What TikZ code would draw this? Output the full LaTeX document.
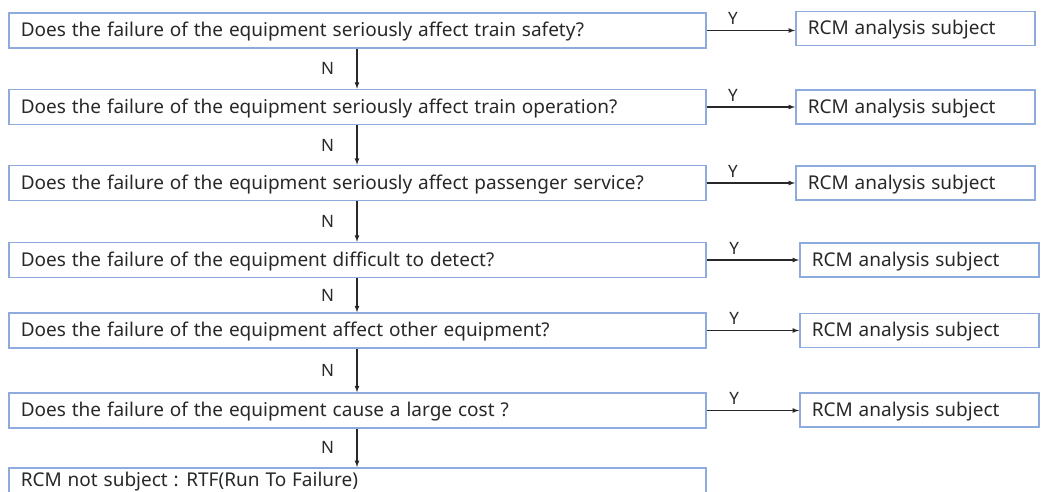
\documentclass[tikz,border=0pt]{standalone}
\usepackage{fontspec}
\setmainfont{Noto Sans}
\usetikzlibrary{positioning}

\definecolor{boxedge}{RGB}{143,170,220}
\definecolor{inkgray}{RGB}{40,40,40}

\newcommand{\boxfont}{\fontsize{19}{22}\selectfont}

\begin{document}
\begin{tikzpicture}[x=1pt, y=-1pt,
  question/.style={draw=boxedge, line width=1.5pt, anchor=west,
    minimum width=697pt, minimum height=35pt, text width=673pt,
    text height=16pt, text depth=3.5pt,
    inner xsep=12pt, align=flush left, text=inkgray, font=\boxfont,
    execute at begin node={\spaceskip=5.9pt plus 2pt minus 1pt\relax}},
  result/.style={question, minimum width=239pt, minimum height=34pt, text width=215pt},
  yesarrow/.style={-latex, line width=1.2pt, inkgray},
  noarrow/.style={-latex, line width=1.2pt, inkgray},
  answer/.style={text=inkgray, font=\fontsize{17}{20}\selectfont}
]

  % page frame
  \useasboundingbox (0,0) rectangle (1041,492);

  % --- questions (left column) ---
  \node[question] (q1) at (8,30.5)  {Does the failure of the equipment seriously affect train safety?};
  \node[question] (q2) at (8,107)   {Does the failure of the equipment seriously affect train operation?};
  \node[question] (q3) at (8,183)   {Does the failure of the equipment seriously affect passenger service?};
  \node[question] (q4) at (8,260)   {Does the failure of the equipment difficult to detect?};
  \node[question] (q5) at (8,330.5) {Does the failure of the equipment affect other equipment?};
  \node[question] (q6) at (8,410.5) {Does the failure of the equipment cause a large cost ?};
  \node[question, anchor=north west, minimum height=50pt, text height=14pt, text depth=26pt, inner ysep=4pt] (q7) at (8,467)
    {RCM not subject : RTF(Run To Failure)};

  % --- results (right column) ---
  \node[result] (r1) at (795,28.5) {RCM analysis subject};
  \node[result] (r2) at (795,107)  {RCM analysis subject};
  \node[result] (r3) at (795,183)  {RCM analysis subject};
  \node[result] (r4) at (799,260)  {RCM analysis subject};
  \node[result] (r5) at (799,330.5){RCM analysis subject};
  \node[result] (r6) at (799,410)  {RCM analysis subject};

  % --- Y branches ---
  \draw[yesarrow] (q1.east) -- (q1.east -| r1.west) node[answer, pos=0.3, above=2pt] {Y};
  \draw[yesarrow] (q2.east) -- (q2.east -| r2.west) node[answer, pos=0.3, above=2pt] {Y};
  \draw[yesarrow] (q3.east) -- (q3.east -| r3.west) node[answer, pos=0.3, above=2pt] {Y};
  \draw[yesarrow] (q4.east) -- (q4.east -| r4.west) node[answer, pos=0.3, above=2pt] {Y};
  \draw[yesarrow] (q5.east) -- (q5.east -| r5.west) node[answer, pos=0.3, above=2pt] {Y};
  \draw[yesarrow] (q6.east) -- (q6.east -| r6.west) node[answer, pos=0.3, above=2pt] {Y};

  % --- N chain ---
  \coordinate (spine) at (357,0);
  \draw[noarrow] (q1.south -| spine) -- (q2.north -| spine) node[answer, midway, left=19pt] {N};
  \draw[noarrow] (q2.south -| spine) -- (q3.north -| spine) node[answer, midway, left=19pt] {N};
  \draw[noarrow] (q3.south -| spine) -- (q4.north -| spine) node[answer, midway, left=19pt] {N};
  \draw[noarrow] (q4.south -| spine) -- (q5.north -| spine) node[answer, midway, left=19pt] {N};
  \draw[noarrow] (q5.south -| spine) -- (q6.north -| spine) node[answer, midway, left=19pt] {N};
  \draw[noarrow] (q6.south -| spine) -- (q7.north -| spine) node[answer, midway, left=19pt] {N};

\end{tikzpicture}
\end{document}
